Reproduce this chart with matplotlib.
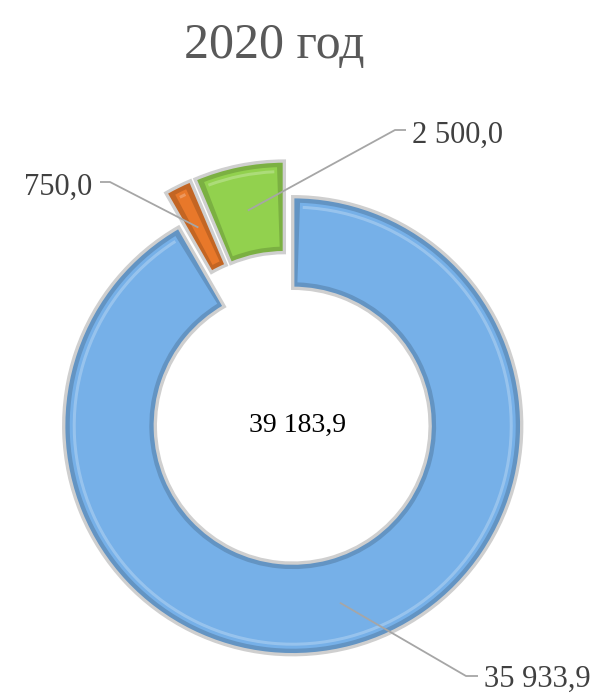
import numpy as np
import matplotlib
matplotlib.use("Agg")
import matplotlib.pyplot as plt
from matplotlib.patches import Wedge
import matplotlib.colors as mcolors

# ---- data ----
title = "2020 год"
categories = ["A", "B", "C"]
values = [35933.9, 750.0, 2500.0]
value_labels = ["35 933,9", "750,0", "2 500,0"]
total_label = "39 183,9"
colors = ["#76B0E8", "#E8782A", "#92D14E"]

W, H = 602, 693
fig = plt.figure(figsize=(W / 100, H / 100), dpi=100)
ax = fig.add_axes([0, 0, 1, 1])

R = 229
center = (288, H - 408)
explode_frac = 0.08
explode = [explode_frac * R] * len(values)   # pie explode is in data units

wedges, _ = ax.pie(values, explode=explode, startangle=90, counterclock=False,
                   radius=R, center=center, colors=colors,
                   wedgeprops=dict(width=R * 0.4, edgecolor="#CFCFCF", linewidth=2.4))

def shade(c, f):
    rgb = np.array(mcolors.to_rgb(c))
    if f < 1:
        return tuple(rgb * f)
    return tuple(rgb + (1 - rgb) * (f - 1))

# bevel effect: darker frame, main face inset, light highlight
for w, c in zip(wedges, colors):
    w.set_facecolor(shade(c, 0.84))
    cx, cy = w.center
    r, wd = w.r, w.width
    t1, t2 = w.theta1, w.theta2
    inset = 6
    rm = r - wd / 2
    a = np.degrees(inset / rm)
    face = Wedge((cx, cy), r - inset, t1 + a, t2 - a, width=wd - 2 * inset,
                 facecolor=c, edgecolor="none", zorder=w.get_zorder() + 0.1)
    ax.add_patch(face)
    hl = Wedge((cx, cy), r - inset - 3, t1 + a * 1.4, t2 - a * 1.4, width=3,
               facecolor=shade(c, 1.35), edgecolor="none", alpha=0.7,
               zorder=w.get_zorder() + 0.2)
    ax.add_patch(hl)

ax.set_xlim(0, W)
ax.set_ylim(0, H)
ax.set_aspect("equal")
ax.axis("off")

serif = ["Liberation Serif", "DejaVu Serif"]

fig.text(274 / W, 1 - 58 / H, title, ha="center", va="baseline",
         fontsize=36, color="#595959", family=serif)

ax.text(298, H - 432, total_label, ha="center", va="baseline",
        fontsize=20, color="black", family=serif)

# label layout (screen px): text anchor x, baseline y, ha, elbow, end of leader
label_pos = [
    dict(x=484, y=687, ha="left", elbow=(466, 676), end=(478, 676)),
    dict(x=92, y=195, ha="right", elbow=(110, 182), end=(100, 182)),
    dict(x=412, y=143, ha="left", elbow=(395, 130), end=(406, 130)),
]

for w, lab, lp in zip(wedges, value_labels, label_pos):
    cx, cy = w.center
    rm = w.r - w.width / 2
    ang = np.radians((w.theta1 + w.theta2) / 2)
    px, py = cx + rm * np.cos(ang), cy + rm * np.sin(ang)
    ex, ey = lp["elbow"]
    fx, fy = lp["end"]
    ax.plot([px, ex, fx], [py, H - ey, H - fy], color="#A6A6A6", lw=1.3,
            zorder=10, solid_capstyle="butt")
    ax.text(lp["x"], H - lp["y"], lab, ha=lp["ha"], va="baseline",
            fontsize=22, color="#404040", family=serif)

fig.savefig("out.png", dpi=100, facecolor="white")
